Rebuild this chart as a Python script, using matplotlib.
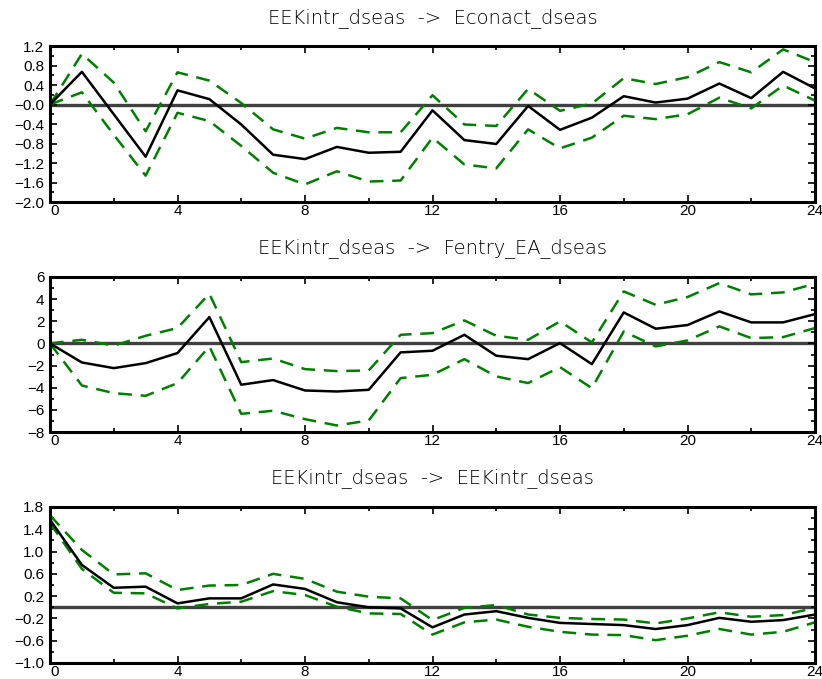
import matplotlib.pyplot as plt
import numpy as np

steps = np.arange(25)

titles = ['EEKintr_dseas  ->  Econact_dseas',
          'EEKintr_dseas  ->  Fentry_EA_dseas',
          'EEKintr_dseas  ->  EEKintr_dseas']

econact_mid = [0.0, 0.67, -0.2, -1.07, 0.29, 0.11, -0.41, -1.03, -1.12, -0.87, -0.99, -0.97,
               -0.12, -0.73, -0.81, -0.03, -0.52, -0.27, 0.17, 0.04, 0.12, 0.43, 0.13, 0.67, 0.33]
econact_hi = [0.0, 1.04, 0.45, -0.55, 0.66, 0.49, 0.03, -0.51, -0.70, -0.48, -0.57, -0.57,
              0.19, -0.41, -0.44, 0.32, -0.13, 0.02, 0.54, 0.42, 0.56, 0.87, 0.66, 1.13, 0.87]
econact_lo = [0.0, 0.25, -0.62, -1.46, -0.17, -0.34, -0.85, -1.40, -1.64, -1.37, -1.58, -1.56,
              -0.68, -1.23, -1.31, -0.51, -0.90, -0.68, -0.23, -0.30, -0.20, 0.14, -0.08, 0.39, 0.08]

fentry_mid = [0.0, -1.72, -2.23, -1.78, -0.87, 2.38, -3.73, -3.31, -4.25, -4.34, -4.19, -0.81,
              -0.66, 0.78, -1.11, -1.42, 0.03, -1.87, 2.80, 1.33, 1.66, 2.89, 1.90, 1.90, 2.65]
fentry_hi = [0.0, 0.33, -0.2, 0.69, 1.39, 4.49, -1.69, -1.36, -2.32, -2.50, -2.44, 0.78,
             0.93, 2.08, 0.69, 0.33, 1.99, 0.09, 4.70, 3.49, 4.19, 5.45, 4.43, 4.61, 5.39]
fentry_lo = [0.0, -3.80, -4.49, -4.73, -3.58, -0.27, -6.36, -6.08, -6.84, -7.41, -6.96, -3.13,
             -2.83, -1.42, -2.98, -3.58, -2.14, -4.04, 1.08, -0.27, 0.27, 1.54, 0.48, 0.57, 1.39]

eekintr_mid = [1.57, 0.76, 0.35, 0.37, 0.07, 0.16, 0.16, 0.41, 0.33, 0.09, 0.0, -0.02,
               -0.36, -0.13, -0.07, -0.19, -0.28, -0.30, -0.32, -0.39, -0.32, -0.19, -0.26, -0.23, -0.13]
eekintr_hi = [1.65, 1.03, 0.59, 0.61, 0.31, 0.39, 0.40, 0.60, 0.51, 0.28, 0.19, 0.16,
              -0.23, -0.01, 0.04, -0.13, -0.19, -0.21, -0.22, -0.29, -0.20, -0.09, -0.17, -0.14, -0.01]
eekintr_lo = [1.51, 0.69, 0.26, 0.25, -0.02, 0.06, 0.10, 0.29, 0.22, 0.01, -0.11, -0.12,
              -0.49, -0.27, -0.22, -0.35, -0.44, -0.49, -0.50, -0.59, -0.51, -0.39, -0.49, -0.44, -0.27]

ytick_vals = [
    [1.2, 0.8, 0.4, 0.0, -0.4, -0.8, -1.2, -1.6, -2.0],
    [6, 4, 2, 0, -2, -4, -6, -8],
    [1.8, 1.4, 1.0, 0.6, 0.2, -0.2, -0.6, -1.0],
]
ytick_text = [
    ['1.2', '0.8', '0.4', '\u22120.0', '\u22120.4', '\u22120.8', '\u22121.2', '\u22121.6', '\u22122.0'],
    ['6', '4', '2', '0', '\u22122', '\u22124', '\u22126', '\u22128'],
    ['1.8', '1.4', '1.0', '0.6', '0.2', '\u22120.2', '\u22120.6', '\u22121.0'],
]
yminor_step = [0.2, 1.0, 0.2]

panels = [
    (econact_mid, econact_hi, econact_lo),
    (fentry_mid, fentry_hi, fentry_lo),
    (eekintr_mid, eekintr_hi, eekintr_lo),
]

plt.rcParams['font.family'] = ['Liberation Sans', 'DejaVu Sans']

fig = plt.figure(figsize=(8.22, 6.79), dpi=100)
W, H = 822, 679
boxes = [(46, 202), (277, 432), (507, 663)]
title_y = [18, 248, 478]

for i, (mid, hi, lo) in enumerate(panels):
    top, bot = boxes[i]
    ax = fig.add_axes([50 / W, 1 - bot / H, 765 / W, (bot - top) / H])
    ax.axhline(0, color='#404040', lw=2.4, zorder=1)
    ax.plot(steps, hi, color='#008000', lw=1.8, dashes=(5.5, 3.5), zorder=2)
    ax.plot(steps, lo, color='#008000', lw=1.8, dashes=(5.5, 3.5), zorder=2)
    ax.plot(steps, mid, color='black', lw=1.8, zorder=3)

    yv = ytick_vals[i]
    ax.set_xlim(0, 24)
    ax.set_ylim(min(yv), max(yv))
    ax.set_xticks(np.arange(0, 25, 4))
    ax.set_xticks(np.arange(0, 25, 2), minor=True)
    ax.set_yticks(yv)
    ax.set_yticklabels(ytick_text[i])
    ax.set_yticks(np.arange(min(yv), max(yv) + 1e-9, yminor_step[i]), minor=True)
    ax.tick_params(which='both', direction='in', top=True, right=True,
                   labelsize=11, width=1.2)
    ax.tick_params(axis='y', pad=4)
    ax.tick_params(axis='x', pad=1.5)
    ax.tick_params(which='major', length=5)
    ax.tick_params(which='minor', length=3)
    ax.get_xticklabels()[0].set_ha('left')
    for sp in ax.spines.values():
        sp.set_linewidth(2.2)

    fig.text(0.5 * (50 + 815) / W, 1 - title_y[i] / H, titles[i],
             ha='center', va='center', fontsize=14, family='DejaVu Sans',
             fontweight='light')

fig.savefig('out.png', dpi=100)
